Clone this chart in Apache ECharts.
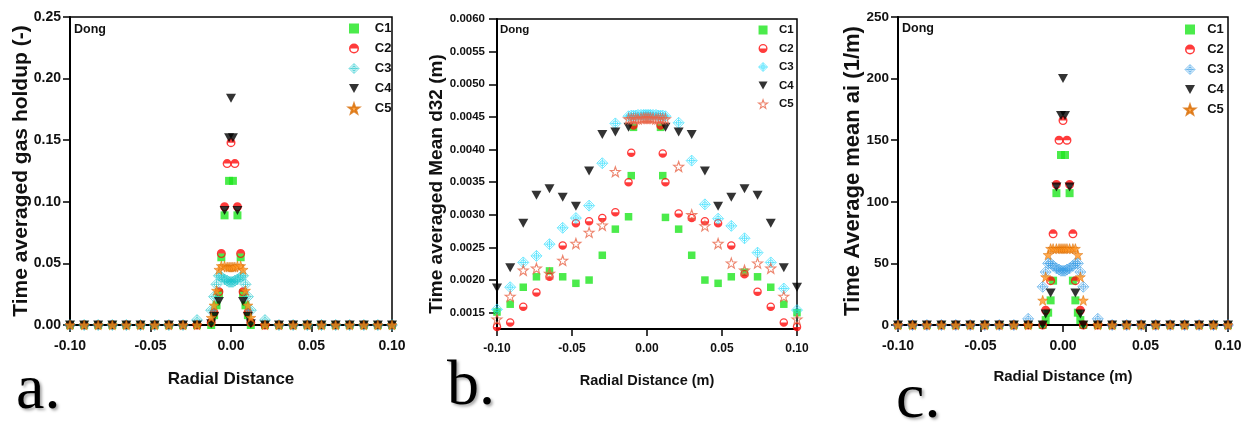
<!DOCTYPE html>
<html><head><meta charset="utf-8">
<script src="https://cdn.jsdelivr.net/npm/echarts@6/dist/echarts.min.js"></script>
<style>html,body{margin:0;padding:0;background:#fff}#c{width:1250px;height:423px}</style>
</head><body><div id="c"></div>
<script>
// ---- data ----
const RADIAL = [-0.1,-0.0912,-0.0825,-0.0737,-0.065,-0.0562,-0.0474,-0.0386,-0.0298,-0.0211,
  -0.0123,-0.0105,-0.009,-0.0075,-0.006,-0.004,-0.0024,-0.0012,0,0.0012,0.0024,0.004,0.006,0.0075,0.009,0.0105,0.0123,
  0.0211,0.0298,0.0386,0.0474,0.0562,0.065,0.0737,0.0825,0.0912,0.1];
const SERIES_NAMES = ['C1','C2','C3','C4','C5'];
const X_TICKS = [-0.1,-0.05,0,0.05,0.1];
const HOLDUP_TICKS = [0,0.05,0.1,0.15,0.2,0.25];
const D32_TICKS = [0.0015,0.002,0.0025,0.003,0.0035,0.004,0.0045,0.005,0.0055,0.006];
const AI_TICKS = [0,50,100,150,200,250];

// (a) gas holdup
const HOLDUP_C1 = [0,0,0,0,0,0,0,0,0,0, 0,0.008,0.016,0.026,0.055,0.089,null,0.117,null,0.117,null,0.089,0.055,0.026,0.016,0.008,0, 0,0,0,0,0,0,0,0,0,0];
const HOLDUP_C2 = [0,0,0,0,0,0,0,0,0,0, 0.002,0.010,null,0.027,0.058,0.096,0.131,null,0.148,null,0.131,0.096,0.058,0.027,null,0.010,0.002, 0,0,0,0,0,0,0,0,0,0];
const HOLDUP_C3 = [0,0,0,0,0,0,0,0,0,0.004, 0.012,0.023,0.033,0.040,0.039,0.037,0.036,0.035,0.035,0.035,0.036,0.037,0.039,0.040,0.033,0.023,0.012, 0.004,0,0,0,0,0,0,0,0,0];
const HOLDUP_C4 = [0,0,0,0,0,0,0,0,0,0, 0.001,0.007,null,0.019,null,0.093,null,0.152,0.184,0.152,null,0.093,null,0.019,null,0.007,0.001, 0,0,0,0,0,0,0,0,0,0];
const HOLDUP_C5 = [0,0,0,0,0,0,0,0,0,0, 0.006,0.016,0.028,0.045,0.048,0.048,0.047,0.047,0.047,0.047,0.047,0.048,0.048,0.045,0.028,0.016,0.006, 0,0,0,0,0,0,0,0,0,0];

// (b) mean d32
const D32_C1 = [0.00151,0.00163,0.00189,0.00205,0.00214,0.00205,0.00195,0.00200,0.00238,0.00278, 0.00297,0.00360,0.00434,null,null,null,null,null,null,null,null,null,null,null,0.00434,0.00360,0.00296, 0.00278,0.00238,0.00200,0.00195,0.00205,0.00212,0.00205,0.00189,0.00163,0.00150];
const D32_C2 = [0.00128,0.00135,0.00159,0.00181,0.00205,0.00253,0.00287,0.00290,0.00295,0.00304, 0.00350,0.00395,0.00437,null,null,null,null,null,null,null,null,null,null,null,0.00437,0.00394,0.00350, 0.00302,0.00295,0.00290,0.00287,0.00253,0.00209,0.00182,0.00159,0.00135,0.00128];
const D32_C3 = [0.00155,0.00189,0.00227,0.00237,0.00255,0.00280,0.00295,0.00314,0.00379,0.00440, 0.00451,0.00452,0.00452,0.00452,0.00453,0.00453,0.00453,0.00453,0.00453,0.00453,0.00453,0.00453,0.00453,0.00452,0.00452,0.00452,0.00451, 0.00441,0.00383,0.00316,0.00294,0.00283,0.00264,0.00242,0.00227,0.00187,0.00154];
const D32_C4 = [0.00188,0.00219,0.00287,0.00330,0.00340,0.00327,0.00313,0.00367,0.00423,0.00427, 0.00434,null,null,null,null,null,null,null,null,null,null,null,null,null,null,null,0.00434, 0.00427,0.00423,0.00367,0.00313,0.00327,0.00340,0.00330,0.00287,0.00219,0.00189];
const D32_C5 = [0.00140,0.00175,0.00215,0.00218,0.00210,0.00230,0.00256,0.00273,0.00284,0.00366, 0.00447,0.00447,0.00447,0.00447,0.00447,0.00448,0.00448,0.00448,0.00448,0.00448,0.00448,0.00448,0.00447,0.00447,0.00447,0.00447,0.00447, 0.00374,0.00300,0.00283,0.00256,0.00226,0.00215,0.00226,0.00218,0.00175,0.00140];

// (c) mean ai
const AI_C1 = [0,0,0,0,0,0,0,0,0,0, 0,4,10,20,36,107,null,138,null,138,null,107,36,20,10,4,0, 0,0,0,0,0,0,0,0,0,0];
const AI_C2 = [0,0,0,0,0,0,0,0,0,0, 0,12,null,36,74,114,150,null,166,null,150,114,74,36,null,12,0, 0,0,0,0,0,0,0,0,0,0];
const AI_C3 = [0,0,0,0,0,0,0,0,0,5, 31,43,50,50,48,46,45,44,44,44,45,46,48,50,50,43,31, 5,0,0,0,0,0,0,0,0,0];
const AI_C4 = [0,0,0,0,0,0,0,0,0,0, 0,9,null,26,null,112,null,170,200,170,null,112,null,26,null,9,0, 0,0,0,0,0,0,0,0,0,0];
const AI_C5 = [0,0,0,0,0,0,0,0,0,0, 20,39,57,62,62,62,62,62,62,62,62,62,62,62,57,39,20, 0,0,0,0,0,0,0,0,0,0];

// ---- symbols ----
const HALF_TOP = 'path://M0,10 A10,10 0 1,1 20,10 A10,10 0 1,1 0,10 Z M3,10 A7,7 0 1,0 17,10 A7,7 0 1,0 3,10 Z M3,10 A7,7 0 0,1 17,10 Z';
const HALF_BOTTOM = 'path://M0,10 A10,10 0 1,1 20,10 A10,10 0 1,1 0,10 Z M3,10 A7,7 0 1,0 17,10 A7,7 0 1,0 3,10 Z M3,10 A7,7 0 0,0 17,10 Z';
const DIAMOND_CROSS = 'path://M10,0 L20,10 L10,20 L0,10 Z M10,1 L10,19 M1,10 L19,10 M14.5,10 A4.5,4.5 0 1,1 5.5,10 A4.5,4.5 0 1,1 14.5,10';
const STAR = 'path://M10,0 L12.35,6.76 L19.51,6.91 L13.8,11.24 L15.88,18.09 L10,14 L4.12,18.09 L6.2,11.24 L0.49,6.91 L7.65,6.76 Z';
const TRI_DOWN = 'path://M0,0 L20,0 L10,18 Z';

const FONT = 'Liberation Sans, Arial, sans-serif';
const SERIF = 'Liberation Serif, Times New Roman, serif';
const C3_COLORS = ['#1ec6cc','#22ddff','#3b9de6'];

function styleFor(panel, idx) {
  switch (idx) {
    case 0: return {symbol:'rect', symbolSize: panel===1?7.5:8, itemStyle:{color:'#1ee61e'}};
    case 1: return {symbol: panel===1?HALF_BOTTOM:HALF_TOP, symbolSize: panel===1?8.5:9, itemStyle:{color:'#ff0a0a'}};
    case 2: return {symbol: DIAMOND_CROSS, symbolSize: 11,
      itemStyle:{color:'rgba(255,255,255,0)', borderColor: C3_COLORS[panel], borderWidth:0.8}};
    case 3: return {symbol: TRI_DOWN, symbolSize:[10,9], itemStyle:{color:'#000'}};
    case 4: return panel===1
      ? {symbol: STAR, symbolSize: 10, itemStyle:{color:'rgba(255,255,255,0)', borderColor:'#e8664a', borderWidth:1.1}}
      : {symbol: STAR, symbolSize: 10, itemStyle:{color:'#ff9420', borderColor:'#d86a00', borderWidth:0.6}};
  }
}

const PANELS = [
  {key:'a', data:[HOLDUP_C1,HOLDUP_C2,HOLDUP_C3,HOLDUP_C4,HOLDUP_C5]},
  {key:'b', data:[D32_C1,D32_C2,D32_C3,D32_C4,D32_C5]},
  {key:'c', data:[AI_C1,AI_C2,AI_C3,AI_C4,AI_C5]}
];

const series = [];
PANELS.forEach((p, pi) => {
  p.data.forEach((arr, si) => {
    const pts = [];
    RADIAL.forEach((x, i) => { if (arr[i] !== null) pts.push([x, arr[i]]); });
    series.push(Object.assign({
      type:'scatter', name: p.key + ':' + SERIES_NAMES[si],
      xAxisIndex: pi, yAxisIndex: pi, data: pts, animation:false,
      emphasis:{disabled:true}
    }, styleFor(pi, si)));
  });
});

const fmtX = v => (Math.abs(v) < 1e-9 ? 0 : v).toFixed(2);

function xAxis(gi, fs, nameFs, name, nameGap) {
  return {
    type:'value', gridIndex: gi, min:-0.1, max:0.1, interval:0.05,
    name: name, nameLocation:'middle', nameGap: nameGap, nameMoveOverlap:false,
    nameTextStyle:{fontFamily:FONT, fontWeight:'bold', fontSize:nameFs, color:'#111'},
    axisLine:{show:true, onZero:false, lineStyle:{color:'#000', width:2}},
    axisTick:{show:true, inside:false, length:7, lineStyle:{color:'#000', width:1.5}},
    axisLabel:{formatter: fmtX, fontFamily:FONT, fontWeight:'bold', fontSize:fs, color:'#111', margin:14},
    splitLine:{show:false}
  };
}

function legend(key, pi, left, top, size, gap, fs, pad) {
  return {data: SERIES_NAMES.map((n, si) => {
      const item = {name: key + ':' + n};
      if (si === 2 || (si === 4 && pi === 1)) item.itemStyle = {borderWidth: si === 2 ? 0.8 : 1.1};
      return item;
    }),
    orient:'vertical', left:left, top:top,
    itemWidth:size, itemHeight:size, itemGap:gap, selectedMode:false, padding:0,
    formatter: n => pad + n.split(':')[1],
    textStyle:{fontFamily:FONT, fontWeight:'bold', fontSize:fs, color:'#111'}};
}

const letterStyle = {fontFamily:SERIF, fontWeight:'normal', fontSize:64, color:'#000',
  textShadowColor:'rgba(0,0,0,0.35)', textShadowBlur:3, textShadowOffsetX:2, textShadowOffsetY:2};

const option = {
  animation:false,
  backgroundColor:'#fff',
  grid:[
    {left:70, right:858, top:17, bottom:98, show:true, borderColor:'#000', borderWidth:1.5, backgroundColor:'transparent'},
    {left:497, right:453, top:19, bottom:94, show:true, borderColor:'#000', borderWidth:1.5, backgroundColor:'transparent'},
    {left:898, right:22, top:17, bottom:98, show:true, borderColor:'#000', borderWidth:1.5, backgroundColor:'transparent'}
  ],
  xAxis:[
    xAxis(0, 14, 17, 'Radial Distance', 46),
    xAxis(1, 12, 14.5, 'Radial Distance (m)', 44),
    xAxis(2, 14, 15, 'Radial Distance (m)', 44)
  ],
  yAxis:[
    {type:'value', gridIndex:0, min:0, max:0.25, interval:0.05,
     name:'Time averaged gas holdup (-)', nameLocation:'middle', nameGap:38, nameMoveOverlap:false,
     nameTextStyle:{fontFamily:FONT, fontWeight:'bold', fontSize:21, color:'#111'},
     axisLine:{show:true, onZero:false, lineStyle:{color:'#000', width:2}},
     axisTick:{show:true, length:7, lineStyle:{color:'#000', width:1.5}},
     axisLabel:{formatter: v => v.toFixed(2), fontFamily:FONT, fontWeight:'bold', fontSize:14, color:'#111', margin:9},
     splitLine:{show:false}},
    {type:'value', gridIndex:1, min:0.00125, max:0.006, interval:0.00025,
     name:'Time averaged Mean d32 (m)', nameLocation:'middle', nameGap:51, nameMoveOverlap:false,
     nameTextStyle:{fontFamily:FONT, fontWeight:'bold', fontSize:19, color:'#111', padding:[0,20,0,0]},
     axisLine:{show:true, onZero:false, lineStyle:{color:'#000', width:2}},
     axisTick:{show:true, length:8, customValues: D32_TICKS, lineStyle:{color:'#000', width:1.5}},
     axisLabel:{customValues: D32_TICKS, formatter: v => v.toFixed(4), fontFamily:FONT, fontWeight:'bold', fontSize:11.5, color:'#111', margin:12},
     splitLine:{show:false}},
    {type:'value', gridIndex:2, min:0, max:250, interval:50,
     name:'Time Average mean ai (1/m)', nameLocation:'middle', nameGap:34, nameMoveOverlap:false,
     nameTextStyle:{fontFamily:FONT, fontWeight:'bold', fontSize:22, color:'#111'},
     axisLine:{show:true, onZero:false, lineStyle:{color:'#000', width:2}},
     axisTick:{show:true, length:7, lineStyle:{color:'#000', width:1.5}},
     axisLabel:{formatter: v => String(v), fontFamily:FONT, fontWeight:'bold', fontSize:13.5, color:'#111', margin:9},
     splitLine:{show:false}}
  ],
  legend:[
    legend('a', 0, 348, 22, 10, 7, 13, '   '),
    legend('b', 1, 758, 24, 9, 6.5, 11.5, '  '),
    legend('c', 2, 1184, 23, 10, 7, 13, '  ')
  ],
  title:[
    {text:'Dong', left:74, top:23, padding:0, textStyle:{fontFamily:FONT, fontWeight:'bold', fontSize:12.5, color:'#111'}},
    {text:'Dong', left:500, top:24, padding:0, textStyle:{fontFamily:FONT, fontWeight:'bold', fontSize:11.5, color:'#111'}},
    {text:'Dong', left:902, top:22, padding:0, textStyle:{fontFamily:FONT, fontWeight:'bold', fontSize:12.5, color:'#111'}},
    {text:'a.', left:16, top:359, padding:0, textStyle:letterStyle},
    {text:'b.', left:447, top:355, padding:0, textStyle:letterStyle},
    {text:'c.', left:896, top:368, padding:0, textStyle:letterStyle}
  ],
  series: series
};

const chart = echarts.init(document.getElementById('c'), null, {renderer:'canvas'});
chart.setOption(option);
</script>
</body></html>
